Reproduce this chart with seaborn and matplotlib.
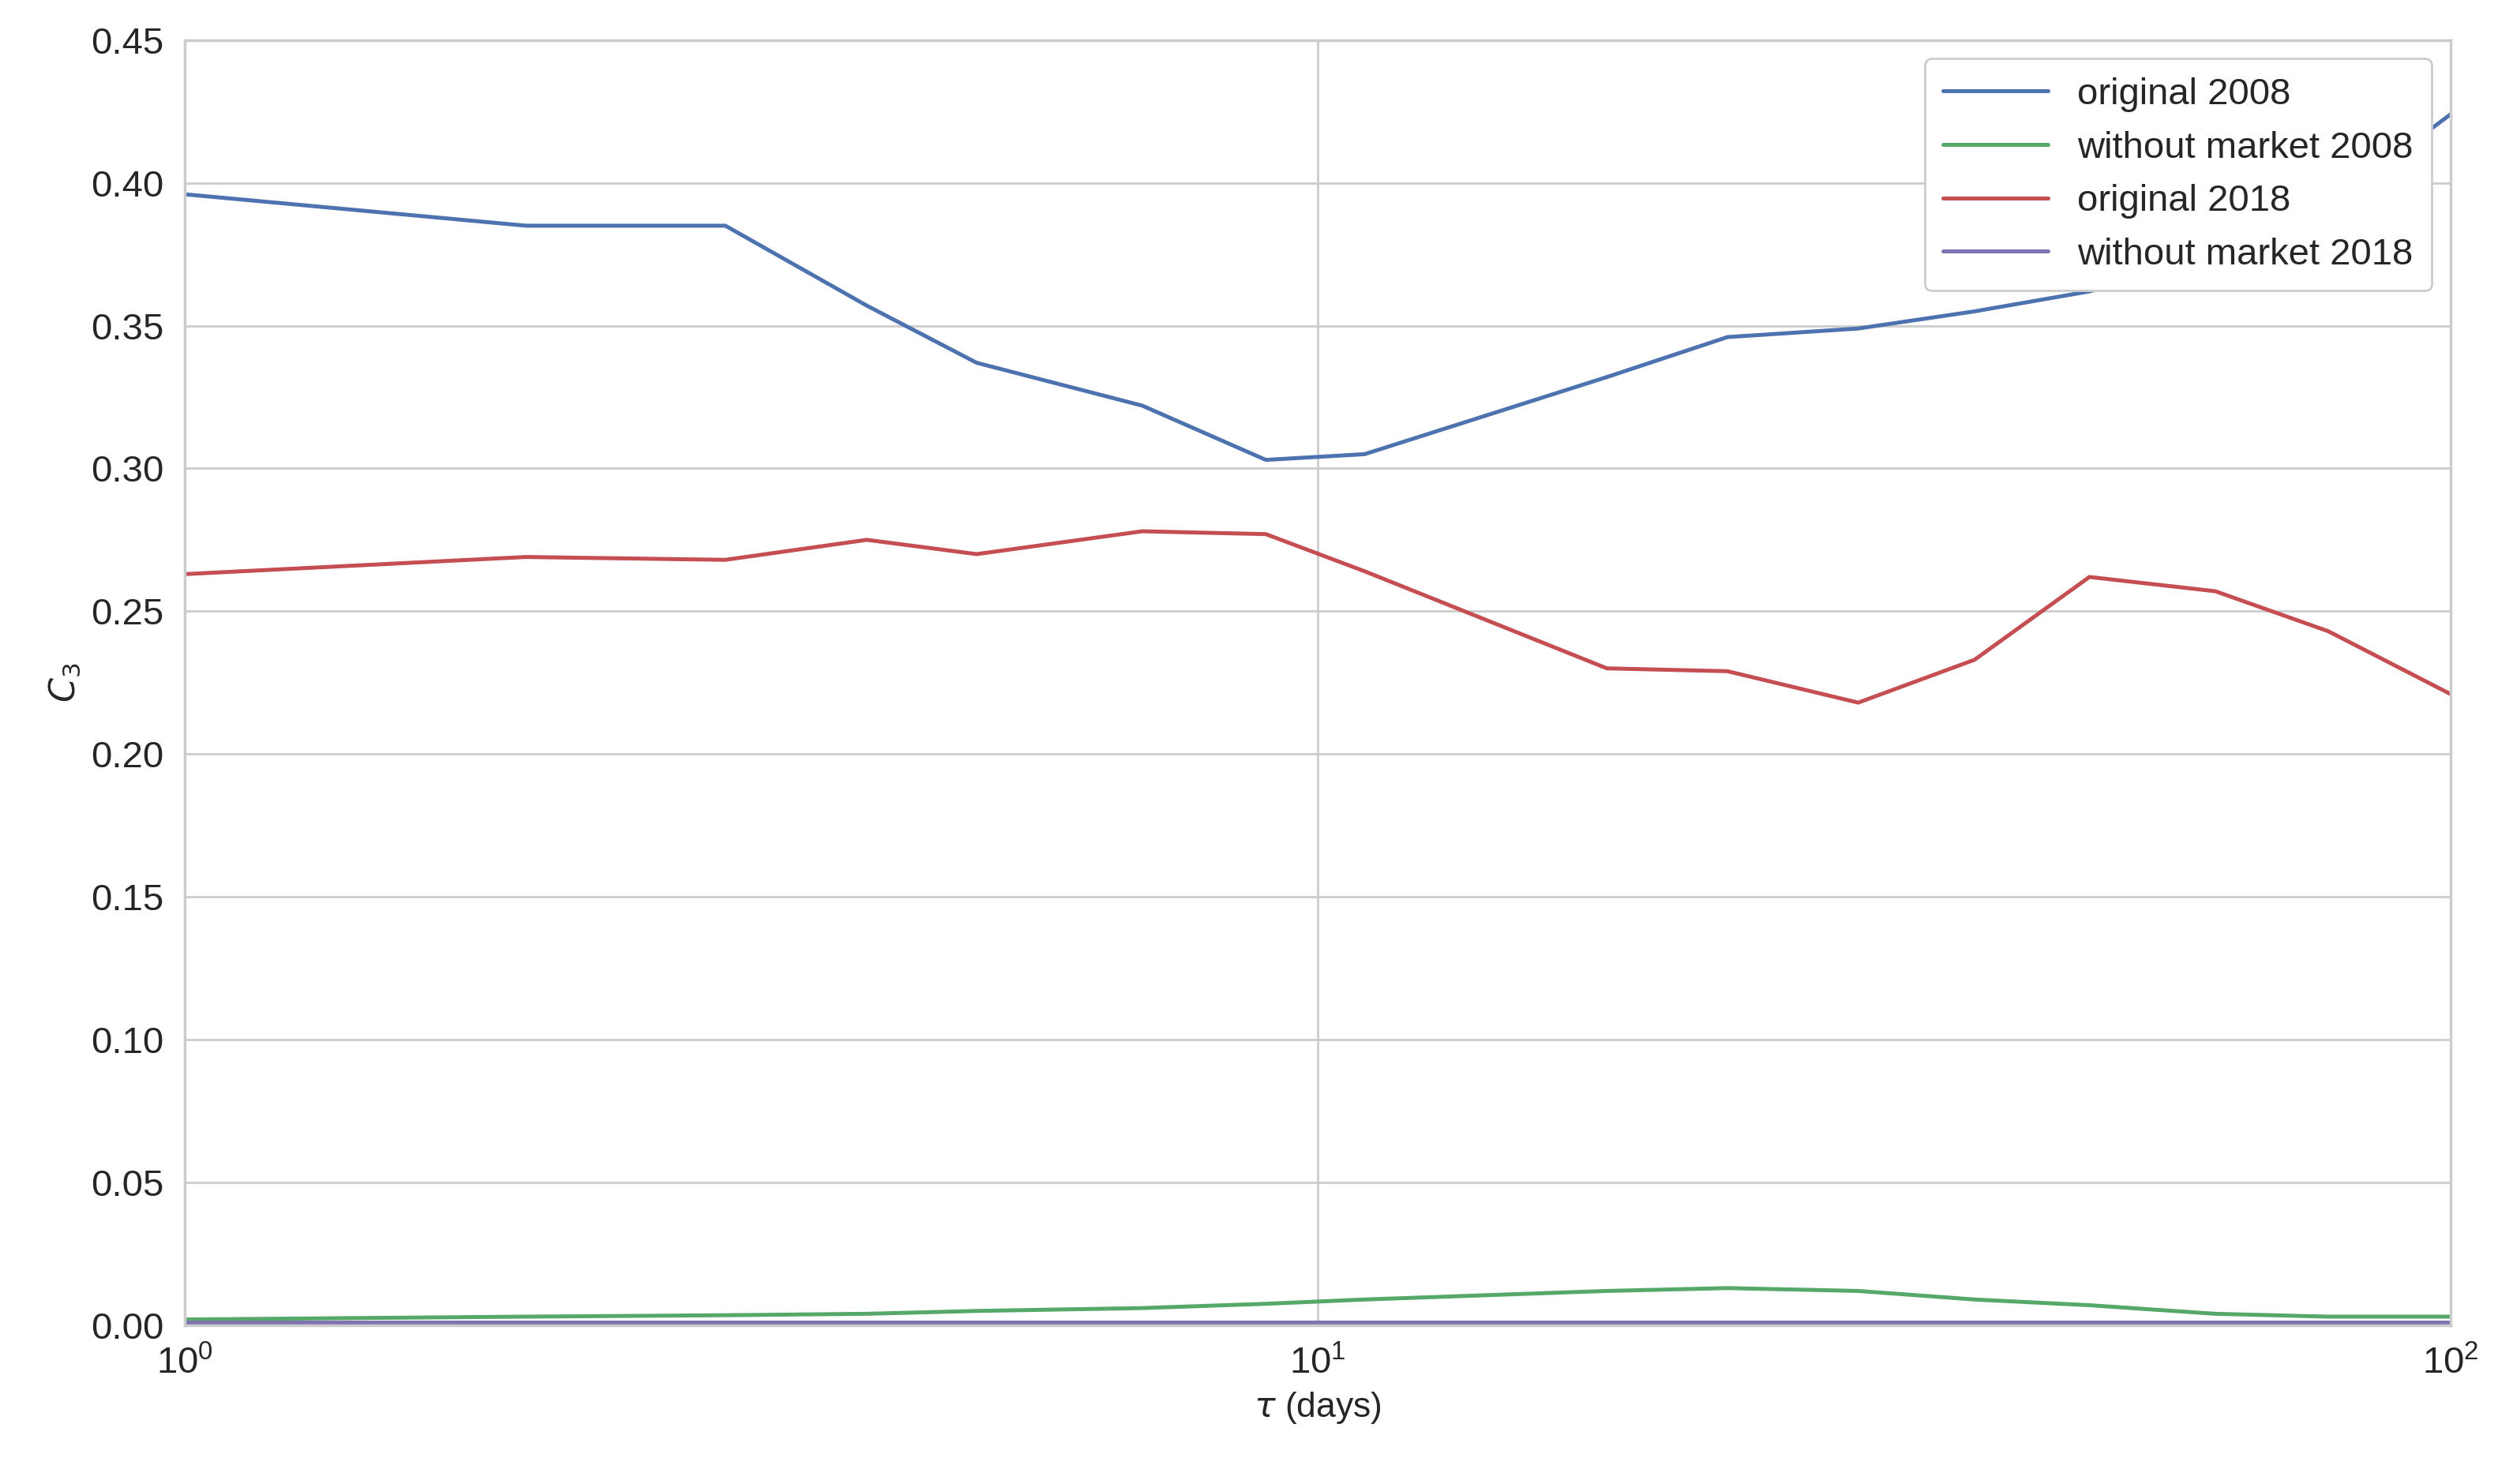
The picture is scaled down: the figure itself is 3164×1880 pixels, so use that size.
import matplotlib
matplotlib.use("Agg")
import matplotlib.pyplot as plt
import seaborn as sns
import pandas as pd

tau = [1, 2, 3, 4, 5, 7, 9, 11, 18, 23, 30, 38, 48, 62, 78, 100]
orig_2008 = [0.396, 0.385, 0.385, 0.357, 0.337, 0.322, 0.303, 0.305, 0.332, 0.346, 0.349, 0.355, 0.362, 0.375, 0.392, 0.424]
nomkt_2008 = [0.002, 0.003, 0.0035, 0.004, 0.005, 0.006, 0.0075, 0.009, 0.012, 0.013, 0.012, 0.009, 0.007, 0.004, 0.003, 0.003]
orig_2018 = [0.263, 0.269, 0.268, 0.275, 0.270, 0.278, 0.277, 0.264, 0.230, 0.229, 0.218, 0.233, 0.262, 0.257, 0.243, 0.221]
nomkt_2018 = [0.001] * 16
labels = ["original 2008", "without market 2008", "original 2018", "without market 2018"]
colors = ["#4C72B0", "#55A868", "#C44E52", "#8172B2"]

rows = []
for lab, vals in zip(labels, [orig_2008, nomkt_2008, orig_2018, nomkt_2018]):
    for t, v in zip(tau, vals):
        rows.append({"tau": t, "C3": v, "series": lab})
df = pd.DataFrame(rows)

sns.set_theme(style="whitegrid")
plt.rcParams['font.family'] = ['Liberation Sans', 'DejaVu Sans']
fig, ax = plt.subplots(figsize=(15.82, 9.4), dpi=200)
sns.lineplot(data=df, x="tau", y="C3", hue="series", hue_order=labels,
             palette=colors, ax=ax, linewidth=1.8)
ax.set_xscale("log")
ax.set_xlim(1, 100)
ax.set_ylim(0, 0.45)
ax.set_yticks([i * 0.05 for i in range(10)])
ax.set_yticklabels([f"{i*0.05:.2f}" for i in range(10)])
ax.tick_params(labelsize=17, colors="#262626")
ax.set_xlabel(r"$\tau$ (days)", fontsize=16, color="#262626")
ax.set_ylabel(r"$C_3$", fontsize=16, color="#262626")
for s in ax.spines.values():
    s.set_color("#cccccc")
leg = ax.legend(loc="upper right", fontsize=17, frameon=True, framealpha=1,
                handlelength=2.8, borderpad=0.5)
leg.get_frame().set_facecolor("white")
for t in leg.get_texts():
    t.set_color("#262626")
plt.subplots_adjust(left=0.074, right=0.981, top=0.973, bottom=0.107)
fig.savefig("out.png", dpi=200)
